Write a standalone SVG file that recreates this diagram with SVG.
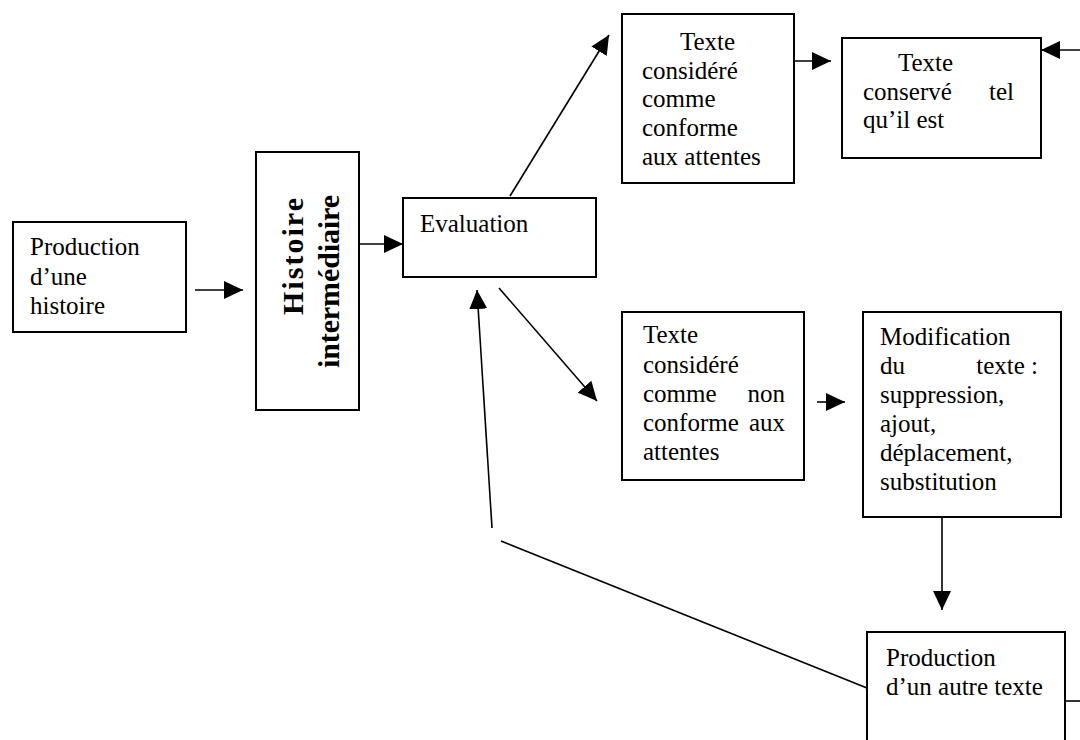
<svg xmlns="http://www.w3.org/2000/svg" width="1080" height="740" viewBox="0 0 1080 740">
<style>
.box{fill:#fff;stroke:#000;stroke-width:2}
.t{font-family:"Liberation Serif","Times New Roman",serif;font-size:25px;fill:#000}
.b{font-family:"Liberation Serif","Times New Roman",serif;font-size:30px;font-weight:bold;fill:#000}
.c{stroke:#000;stroke-width:1.6;fill:none}
.e{text-anchor:end}
</style>
<defs>
<marker id="ah" markerUnits="userSpaceOnUse" markerWidth="20" markerHeight="18" refX="19" refY="9" orient="auto" viewBox="0 0 20 18">
<path d="M0,0 L19,9 L0,18 z" fill="#000"/>
</marker>
</defs>
<rect width="1080" height="740" fill="#fff"/>
<g id="connectors">
<line class="c" x1="195" y1="290" x2="243" y2="290" marker-end="url(#ah)"/>
<line class="c" x1="353" y1="244" x2="403" y2="244" marker-end="url(#ah)"/>
<line class="c" x1="510" y1="196" x2="609" y2="35" marker-end="url(#ah)"/>
<line class="c" x1="794" y1="61" x2="831" y2="61" marker-end="url(#ah)"/>
<line class="c" x1="1080" y1="50" x2="1041" y2="50" marker-end="url(#ah)"/>
<line class="c" x1="499" y1="288" x2="597" y2="401" marker-end="url(#ah)"/>
<line class="c" x1="817" y1="402" x2="845" y2="402" marker-end="url(#ah)"/>
<line class="c" x1="942" y1="517" x2="942" y2="610" marker-end="url(#ah)"/>
<line class="c" x1="867" y1="688" x2="501" y2="541"/>
<line class="c" x1="492" y1="528" x2="477" y2="290" marker-end="url(#ah)"/>
<line class="c" x1="1065" y1="701" x2="1080" y2="701"/>
</g>
<g id="production-histoire">
<rect class="box" x="13" y="222" width="173" height="110"/>
<text class="t" x="30" y="255">Production</text>
<text class="t" x="30" y="285">d’une</text>
<text class="t" x="30" y="314">histoire</text>
</g>
<g id="histoire-intermediaire">
<rect class="box" x="256" y="152" width="103" height="258"/>
<text class="b" transform="translate(303,315) rotate(-90)" textLength="117">Histoire</text>
<text class="b" transform="translate(339,368) rotate(-90)" textLength="173">intermédiaire</text>
</g>
<g id="evaluation">
<rect class="box" x="403" y="198" width="193" height="79"/>
<text class="t" x="420" y="232">Evaluation</text>
</g>
<g id="texte-conforme">
<rect class="box" x="622" y="14" width="172" height="169"/>
<text class="t" x="680" y="50">Texte</text>
<text class="t" x="642" y="79">considéré</text>
<text class="t" x="642" y="107">comme</text>
<text class="t" x="642" y="136">conforme</text>
<text class="t" x="642" y="165">aux attentes</text>
</g>
<g id="texte-conserve">
<rect class="box" x="842" y="38" width="199" height="120"/>
<text class="t" x="898" y="71">Texte</text>
<text class="t" x="863" y="100">conservé</text>
<text class="t" x="989" y="100">tel</text>
<text class="t" x="863" y="128">qu’il est</text>
</g>
<g id="texte-non-conforme">
<rect class="box" x="622" y="312" width="182" height="168"/>
<text class="t" x="643" y="343">Texte</text>
<text class="t" x="643" y="373">considéré</text>
<text class="t" x="643" y="402">comme</text>
<text class="t e" x="785" y="402">non</text>
<text class="t" x="643" y="431">conforme</text>
<text class="t e" x="785" y="431">aux</text>
<text class="t" x="643" y="460">attentes</text>
</g>
<g id="modification">
<rect class="box" x="863" y="312" width="198" height="205"/>
<text class="t" x="880" y="345">Modification</text>
<text class="t" x="880" y="374">du</text>
<text class="t e" x="1038" y="374">texte :</text>
<text class="t" x="880" y="403">suppression,</text>
<text class="t" x="880" y="432">ajout,</text>
<text class="t" x="880" y="461">déplacement,</text>
<text class="t" x="880" y="490">substitution</text>
</g>
<g id="production-autre-texte">
<rect class="box" x="867" y="632" width="198" height="130"/>
<text class="t" x="886" y="666">Production</text>
<text class="t" x="886" y="695">d’un autre texte</text>
</g>
</svg>
